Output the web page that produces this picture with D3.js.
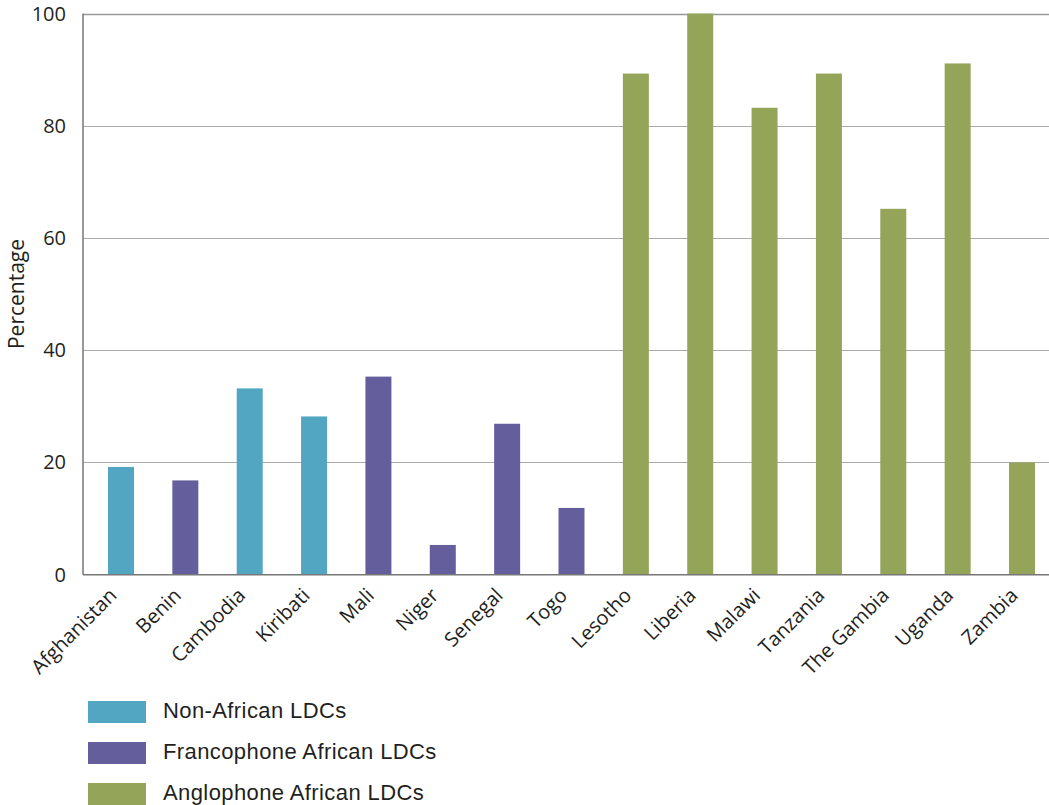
<!DOCTYPE html>
<html><head><meta charset="utf-8">
<script src="https://cdn.jsdelivr.net/npm/d3@7"></script>
<style>body{margin:0;background:#fff;} svg{display:block;}</style>
</head><body>
<svg id="c" width="1049" height="805"></svg>
<script>
const categories = ["Afghanistan","Benin","Cambodia","Kiribati","Mali","Niger","Senegal","Togo","Lesotho","Liberia","Malawi","Tanzania","The Gambia","Uganda","Zambia"];
const values = [19.2, 16.8, 33.2, 28.2, 35.3, 5.3, 26.9, 11.9, 89.3, 100, 83.2, 89.3, 65.2, 91.1, 20.0];
const groups = ["Non-African LDCs","Francophone African LDCs","Non-African LDCs","Non-African LDCs","Francophone African LDCs","Francophone African LDCs","Francophone African LDCs","Francophone African LDCs","Anglophone African LDCs","Anglophone African LDCs","Anglophone African LDCs","Anglophone African LDCs","Anglophone African LDCs","Anglophone African LDCs","Anglophone African LDCs"];
const legendLabels = ["Non-African LDCs","Francophone African LDCs","Anglophone African LDCs"];
const colors = ["#52a6c2","#655e9c","#94a559"];
const yTicks = [0,20,40,60,80,100];

const svg = d3.select("#c");
const y = d3.scaleLinear().domain([0,100]).range([574.7,13.5]);
const x = d3.scaleBand().domain(categories).range([89,1054]).paddingInner(0.596).paddingOuter(0.295);
const color = d3.scaleOrdinal().domain(legendLabels).range(colors);
const axisFont = "'Open Sans', sans-serif";

// gridlines
svg.append("g").selectAll("line").data(yTicks.filter(d=>d>0)).join("line")
  .attr("x1",83).attr("x2",1049).attr("y1",d=>Math.round(y(d))+0.5).attr("y2",d=>Math.round(y(d))+0.5)
  .attr("stroke",d=>d===100?"#999":"#aaa").attr("stroke-width",d=>d===100?1.5:1);

// bars
svg.append("g").selectAll("rect").data(categories).join("rect")
  .attr("x",d=>x(d)).attr("width",x.bandwidth())
  .attr("y",(d,i)=>y(values[i])).attr("height",(d,i)=>y(0)-y(values[i]))
  .attr("fill",(d,i)=>color(groups[i]));

// axes lines
svg.append("line").attr("x1",83).attr("x2",83).attr("y1",y(100)).attr("y2",y(0)).attr("stroke","#777").attr("stroke-width",1.5);
svg.append("line").attr("x1",83).attr("x2",1049).attr("y1",y(0)).attr("y2",y(0)).attr("stroke","#777").attr("stroke-width",1.5);

// y tick labels
svg.append("g").selectAll("text").data(yTicks).join("text")
  .attr("x",66).attr("y",d=>y(d)+7).attr("text-anchor","end")
  .attr("font-family",axisFont).attr("font-size",20).attr("fill","#231f20").text(d=>d);

// y title
svg.append("text").attr("transform","translate(24,294) rotate(-90)").attr("text-anchor","middle")
  .attr("font-family",axisFont).attr("font-size",21).attr("fill","#231f20").text("Percentage");

// x labels
svg.append("g").selectAll("text").data(categories).join("text")
  .attr("transform",d=>`translate(${x(d)+x.bandwidth()/2-3},${y(0)+22}) rotate(-45)`)
  .attr("text-anchor","end")
  .attr("font-family",axisFont).attr("font-size",20).attr("fill","#231f20").text(d=>d);

// legend
const lg = svg.append("g").selectAll("g").data(legendLabels).join("g")
  .attr("transform",(d,i)=>`translate(88,${701+i*41})`);
lg.append("rect").attr("width",58).attr("height",22).attr("fill",d=>color(d));
lg.append("text").attr("x",75).attr("y",16.8).attr("font-family","'Liberation Sans', Arial, sans-serif")
  .attr("font-size",22).attr("letter-spacing",0.4).attr("fill","#231f20").text(d=>d);
</script>
</body></html>
